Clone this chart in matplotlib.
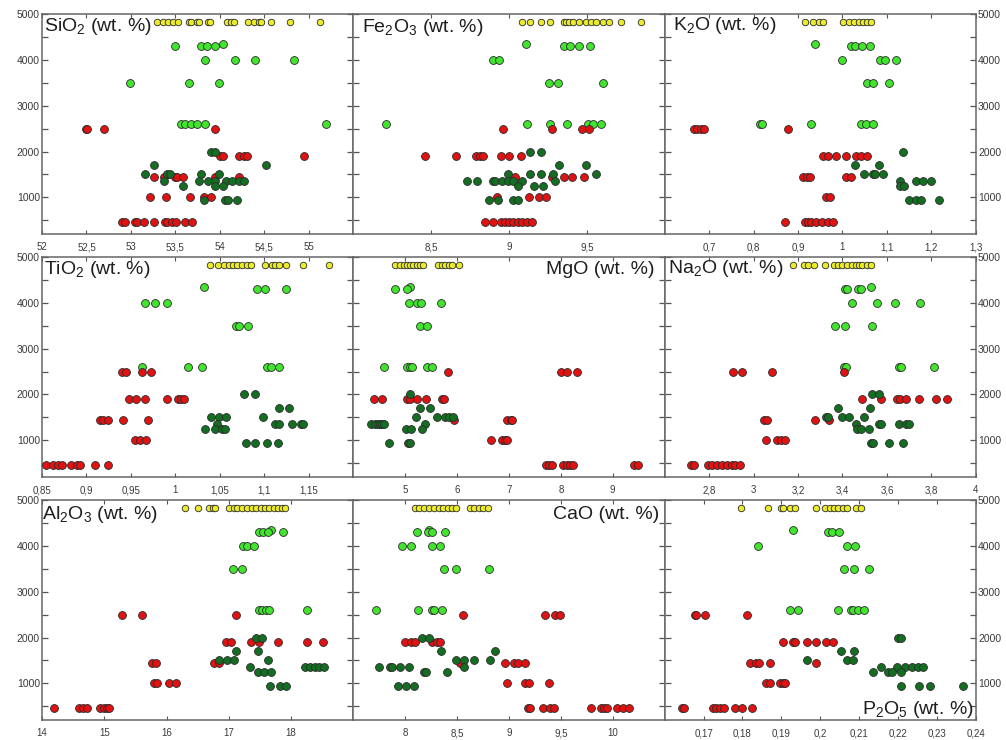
import matplotlib.pyplot as plt
from matplotlib.ticker import MultipleLocator, FixedLocator, FixedFormatter

plt.rcParams['font.family'] = ['Liberation Sans', 'DejaVu Sans']
plt.rcParams['mathtext.fontset'] = 'custom'
plt.rcParams['mathtext.rm'] = 'Liberation Sans'

# x values (wt. %) of each sample, grouped by colour and depth (m)
sio2 = {
    'yellow': {4830: [53.29, 53.36, 53.42, 53.47, 53.53, 53.65, 53.68, 53.74, 53.77, 53.87, 53.89,
                      54.08, 54.12, 54.16, 54.32, 54.38, 54.44, 54.46, 54.57, 54.79, 55.13]},
    'lime': {4340: [54.04], 4300: [53.5, 53.79, 53.86, 53.94], 4000: [53.83, 54.17, 54.40, 54.83],
             3500: [52.99, 53.65, 53.99], 2600: [53.56, 53.61, 53.67, 53.74, 53.83, 55.19]},
    'red': {2500: [52.49, 52.51, 52.70, 53.95], 1900: [54.0, 54.04, 54.22, 54.27, 54.31, 54.95],
            1450: [53.26, 53.37, 53.49, 53.52, 53.58, 53.95, 54.21],
            1000: [53.21, 53.39, 53.66, 53.82, 53.90],
            460: [52.90, 52.93, 53.04, 53.07, 53.15, 53.26, 53.38, 53.41, 53.46, 53.51, 53.61, 53.69]},
    'dark': {2000: [53.90, 53.95], 1700: [53.26, 54.52], 1500: [53.16, 53.40, 53.44, 53.79, 53.99],
             1350: [53.37, 53.76, 53.87, 53.95, 54.07, 54.14, 54.22, 54.27],
             1250: [53.59, 53.95, 54.04], 950: [53.82, 54.06, 54.09, 54.19]},
}

fe2o3 = {
    'yellow': {4830: [9.087, 9.134, 9.204, 9.266, 9.351, 9.368, 9.389, 9.411, 9.453, 9.496, 9.528,
                      9.560, 9.602, 9.640, 9.719, 9.847]},
    'lime': {4340: [9.109], 4300: [9.351, 9.394, 9.449, 9.521], 4000: [8.896, 8.938],
             3500: [9.257, 9.313, 9.602], 2600: [8.213, 9.119, 9.262, 9.374, 9.506, 9.538, 9.591]},
    'red': {2500: [8.964, 9.279, 9.470, 9.513],
            1900: [8.460, 8.662, 8.789, 8.811, 8.836, 8.947, 9.002, 9.077],
            1450: [9.038, 9.274, 9.351, 9.404, 9.479], 1000: [8.921, 9.130, 9.191, 9.240],
            460: [8.847, 8.896, 8.949, 8.974, 9.002, 9.028, 9.060, 9.087, 9.113, 9.145]},
    'dark': {2000: [9.134, 9.204], 1700: [9.321, 9.496], 1500: [8.991, 9.134, 9.209, 9.283, 9.560],
             1350: [8.730, 8.794, 8.896, 8.911, 8.953, 8.991, 9.028, 9.081, 9.294],
             1250: [9.060, 9.160, 9.219], 950: [8.872, 8.932, 9.023, 9.060]},
}

k2o = {
    'yellow': {4830: [0.915, 0.933, 0.948, 0.957, 1.001, 1.014, 1.027, 1.038, 1.047, 1.055, 1.064]},
    'lime': {4340: [0.939], 4300: [1.019, 1.029, 1.043, 1.061], 4000: [0.999, 1.084, 1.096, 1.120],
             3500: [1.055, 1.068, 1.105], 2600: [0.815, 0.820, 0.930, 1.042, 1.052, 1.069]},
    'red': {2500: [0.666, 0.673, 0.681, 0.688, 0.877],
            1900: [0.957, 0.967, 0.986, 1.008, 1.031, 1.042, 1.055],
            1450: [0.912, 0.920, 0.927, 1.007, 1.019], 1000: [0.962, 0.971],
            460: [0.870, 0.915, 0.922, 0.930, 0.941, 0.954, 0.967, 0.978]},
    'dark': {2000: [1.135], 1700: [1.029, 1.083], 1500: [1.049, 1.068, 1.074, 1.092],
             1350: [1.129, 1.165, 1.180, 1.199], 1250: [1.129, 1.139], 950: [1.150, 1.165, 1.176, 1.216]},
}

tio2 = {
    'yellow': {4830: [1.039, 1.048, 1.055, 1.060, 1.065, 1.069, 1.075, 1.080, 1.085, 1.101, 1.109,
                      1.112, 1.116, 1.124, 1.144, 1.173]},
    'lime': {4340: [1.032], 4300: [1.092, 1.101, 1.124], 4000: [0.966, 0.977, 0.991],
             3500: [1.068, 1.072, 1.082], 2600: [0.962, 1.014, 1.030, 1.103, 1.107, 1.117]},
    'red': {2500: [0.940, 0.944, 0.962, 0.973],
            1900: [0.948, 0.956, 0.966, 0.991, 1.003, 1.006, 1.010],
            1450: [0.915, 0.919, 0.924, 0.941, 0.969], 1000: [0.955, 0.960, 0.967],
            460: [0.854, 0.862, 0.868, 0.872, 0.883, 0.889, 0.893, 0.910, 0.924]},
    'dark': {2000: [1.077, 1.090], 1700: [1.117, 1.128], 1500: [1.040, 1.049, 1.057, 1.099],
             1350: [1.047, 1.112, 1.116, 1.131, 1.141, 1.144],
             1250: [1.033, 1.044, 1.052, 1.056], 950: [1.079, 1.089, 1.103, 1.115]},
}

mgo = {
    'yellow': {4830: [4.81, 4.90, 4.97, 5.03, 5.10, 5.16, 5.23, 5.29, 5.35, 5.64, 5.71, 5.77, 5.84,
                      5.90, 6.04]},
    'lime': {4340: [5.10], 4300: [4.81, 5.03], 4000: [5.08, 5.23, 5.31, 5.69], 3500: [5.29, 5.42],
             2600: [4.60, 5.03, 5.10, 5.14, 5.42, 5.51]},
    'red': {2500: [5.82, 8.00, 8.12, 8.32], 1900: [4.39, 4.56, 5.03, 5.10, 5.23, 5.40, 5.71, 5.74],
            1450: [5.95, 6.96, 7.03, 7.06], 1000: [6.66, 6.86, 6.93, 6.97],
            460: [7.71, 7.78, 7.83, 8.04, 8.12, 8.18, 8.23, 9.41, 9.48]},
    'dark': {2000: [5.10], 1700: [5.29, 5.48], 1500: [5.21, 5.61, 5.77, 5.85, 5.93],
             1350: [4.34, 4.41, 4.47, 4.52, 4.56, 4.60, 5.39], 1250: [5.02, 5.12, 5.32],
             950: [4.68, 5.06, 5.10]},
}

na2o = {
    'yellow': {4830: [3.178, 3.227, 3.245, 3.272, 3.322, 3.362, 3.382, 3.400, 3.422, 3.442, 3.460,
                      3.475, 3.490, 3.508, 3.527]},
    'lime': {4340: [3.527], 4300: [3.412, 3.422, 3.472, 3.485], 4000: [3.445, 3.554, 3.635, 3.749],
             3500: [3.365, 3.412, 3.532], 2600: [3.407, 3.418, 3.652, 3.665, 3.812]},
    'red': {2500: [2.909, 2.950, 3.082, 3.407],
            1900: [3.487, 3.572, 3.647, 3.658, 3.685, 3.745, 3.820, 3.872],
            1450: [3.047, 3.062, 3.275, 3.340], 1000: [3.055, 3.107, 3.122, 3.142],
            460: [2.718, 2.730, 2.797, 2.815, 2.837, 2.860, 2.882, 2.905, 2.917, 2.938]},
    'dark': {2000: [3.532, 3.565], 1700: [3.382, 3.523], 1500: [3.325, 3.335, 3.397, 3.430, 3.497],
             1350: [3.460, 3.562, 3.572, 3.652, 3.685, 3.700], 1250: [3.467, 3.482, 3.520],
             950: [3.527, 3.539, 3.610, 3.670]},
}

al2o3 = {
    'yellow': {4830: [16.30, 16.50, 16.68, 16.74, 16.78, 17.01, 17.08, 17.14, 17.22, 17.30, 17.37,
                      17.44, 17.51, 17.58, 17.64, 17.72, 17.79, 17.86, 17.90]},
    'lime': {4340: [17.68], 4300: [17.49, 17.55, 17.63, 17.87], 4000: [17.23, 17.29, 17.40],
             3500: [17.06, 17.22], 2600: [17.48, 17.54, 17.60, 17.64, 18.26]},
    'red': {2500: [15.28, 15.60, 17.12], 1900: [16.95, 17.04, 17.36, 17.48, 17.79, 18.25, 18.52],
            1450: [15.77, 15.83, 16.77, 16.85], 1000: [15.80, 15.85, 16.04, 16.15],
            460: [14.19, 14.59, 14.66, 14.72, 14.93, 14.99, 15.04, 15.08]},
    'dark': {2000: [17.44, 17.54], 1700: [17.12, 17.47], 1500: [16.85, 16.97, 17.09, 17.63],
             1350: [17.34, 18.22, 18.30, 18.38, 18.45, 18.53], 1250: [17.47, 17.57, 17.68],
             950: [17.66, 17.83, 17.92]},
}

cao = {
    'yellow': {4830: [8.098, 8.137, 8.184, 8.232, 8.273, 8.327, 8.368, 8.413, 8.454, 8.486, 8.629,
                      8.667, 8.708, 8.749, 8.794]},
    'lime': {4340: [8.232], 4300: [8.111, 8.216, 8.254, 8.381], 4000: [7.971, 8.057, 8.263, 8.333],
             3500: [8.375, 8.492, 8.810], 2600: [7.714, 8.127, 8.254, 8.273, 8.352]},
    'red': {2500: [8.559, 9.343, 9.444, 9.495], 1900: [7.994, 8.057, 8.098, 8.263, 8.311, 8.337],
            1450: [8.527, 8.962, 9.048, 9.083, 9.152], 1000: [8.984, 9.152, 9.194, 9.390],
            460: [9.184, 9.200, 9.327, 9.397, 9.438, 9.787, 9.883, 9.914, 9.946, 10.041, 10.095,
                  10.159]},
    'dark': {2000: [8.162, 8.225], 1700: [8.349, 8.867], 1500: [8.486, 8.565, 8.660, 8.813],
             1350: [7.749, 7.851, 7.876, 7.946, 8.035, 8.571], 1250: [8.178, 8.200, 8.400],
             950: [7.930, 8.010, 8.083]},
}

p2o5 = {
    'yellow': {4830: [0.1797, 0.1866, 0.1898, 0.1903, 0.1922, 0.1935, 0.1989, 0.2012, 0.2025,
                      0.2035, 0.2046, 0.2059, 0.2070, 0.2092, 0.2106]},
    'lime': {4340: [0.1930], 4300: [0.2020, 0.2029, 0.2049], 4000: [0.1840, 0.2068, 0.2089],
             3500: [0.2062, 0.2087, 0.2126],
             2600: [0.1922, 0.1943, 0.2045, 0.2078, 0.2083, 0.2096, 0.2113]},
    'red': {2500: [0.1677, 0.1681, 0.1703, 0.1813],
            1900: [0.1904, 0.1929, 0.1936, 0.1967, 0.1989, 0.2016, 0.2033],
            1450: [0.1820, 0.1836, 0.1843, 0.1872, 0.1989],
            1000: [0.1860, 0.1872, 0.1896, 0.1904, 0.1910],
            460: [0.1645, 0.1651, 0.1724, 0.1733, 0.1743, 0.1752, 0.1780, 0.1799, 0.1825]},
    'dark': {2000: [0.2201, 0.2208], 1700: [0.2053, 0.2087], 1500: [0.1967, 0.2070, 0.2083],
             1350: [0.2156, 0.2197, 0.2218, 0.2235, 0.2250, 0.2264],
             1250: [0.2136, 0.2173, 0.2184, 0.2207], 950: [0.2207, 0.2255, 0.2282, 0.2368]},
}

panels = [
    (sio2, (52, 55.5), [52, 52.5, 53, 53.5, 54, 54.5, 55], 'SiO$_\\mathregular{2}$ (wt. %)'),
    (fe2o3, (8, 10), [8.5, 9, 9.5], 'Fe$_\\mathregular{2}$O$_\\mathregular{3}$ (wt. %)'),
    (k2o, (0.6, 1.3), [0.7, 0.8, 0.9, 1, 1.1, 1.2, 1.3], 'K$_\\mathregular{2}$O (wt. %)'),
    (tio2, (0.85, 1.2), [0.85, 0.9, 0.95, 1, 1.05, 1.1, 1.15], 'TiO$_\\mathregular{2}$ (wt. %)'),
    (mgo, (4, 10), [5, 6, 7, 8, 9], 'MgO (wt. %)'),
    (na2o, (2.6, 4.0), [2.8, 3, 3.2, 3.4, 3.6, 3.8, 4], 'Na$_\\mathregular{2}$O (wt. %)'),
    (al2o3, (14, 19), [14, 15, 16, 17, 18], 'Al$_\\mathregular{2}$O$_\\mathregular{3}$ (wt. %)'),
    (cao, (7.5, 10.5), [8, 8.5, 9, 9.5, 10], 'CaO (wt. %)'),
    (p2o5, (0.16, 0.24), [0.17, 0.18, 0.19, 0.2, 0.21, 0.22, 0.23, 0.24], 'P$_\\mathregular{2}$O$_\\mathregular{5}$ (wt. %)'),
]

# where each oxide name sits inside its panel (axes fraction)
label_pos = [(0.006, 0.945, 'left'), (0.029, 0.94, 'left'), (0.026, 0.95, 'left'),
             (0.005, 0.945, 'left'), (0.968, 0.945, 'right'), (0.01, 0.948, 'left'),
             (0.0, 0.936, 'left'), (0.984, 0.936, 'right'), (0.994, 0.05, 'right')]

colors = {'yellow': '#ebeb2a', 'lime': '#42e42e', 'red': '#e01212', 'dark': '#146e22'}
sizes = {'yellow': 22, 'lime': 32, 'red': 32, 'dark': 32}

W, H = 1006, 740
fig = plt.figure(figsize=(W / 100, H / 100), dpi=100)

for i, (data, xlim, xticks, name) in enumerate(panels):
    row, col = divmod(i, 3)
    left = 42 + 311.3 * col
    top = 14 + 243 * row
    ax = fig.add_axes([left / W, 1 - (top + 220) / H, 311.3 / W, 220 / H])

    for group in ['yellow', 'lime', 'red', 'dark']:
        for depth, xs in data[group].items():
            ax.scatter(xs, [depth] * len(xs), s=sizes[group], c=colors[group],
                       edgecolors='#2a2a2a', linewidths=0.6, zorder=3, clip_on=False)

    ax.set_xlim(*xlim)
    ax.set_ylim(200, 5000)
    ax.xaxis.set_major_locator(FixedLocator(xticks))
    ax.xaxis.set_major_formatter(FixedFormatter(['%g' % t for t in xticks]))
    ax.set_xticklabels([('%g' % t).replace('.', ',') for t in xticks])
    ax.yaxis.set_major_locator(FixedLocator([1000, 2000, 3000, 4000, 5000]))
    ax.yaxis.set_minor_locator(MultipleLocator(500))

    ax.tick_params(axis='x', which='both', direction='in', length=3, width=0.8,
                   top=True, bottom=True, labelsize=7, labelcolor='#3a3a3a', pad=6, color='#555555')
    ax.tick_params(axis='y', which='both', direction='in', length=4, width=0.9,
                   left=True, right=True, labelsize=7.5, labelcolor='#3a3a3a', pad=1.5,
                   color='#555555', labelleft=(col == 0), labelright=(col == 2))
    for sp in ax.spines.values():
        sp.set_color('#666666')
        sp.set_linewidth(1.1)

    lx, ly, ha = label_pos[i]
    ax.text(lx, ly, name, transform=ax.transAxes, ha=ha, va='center', fontsize=14,
            color='#1e1e1e', zorder=5)

fig.savefig('out.png', dpi=100)
